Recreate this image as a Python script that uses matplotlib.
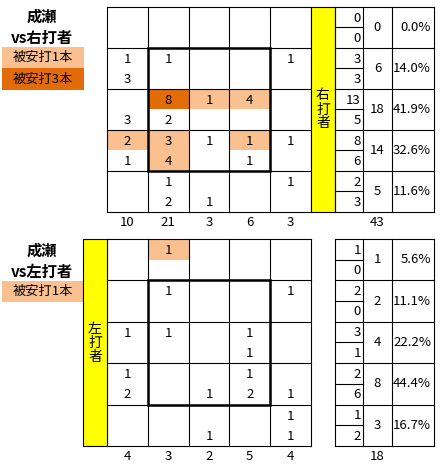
import matplotlib
matplotlib.use("Agg")
import matplotlib.pyplot as plt
from matplotlib.patches import Rectangle

plt.rcParams['font.family'] = ['Noto Sans CJK JP', 'DejaVu Sans']

# zone counts: each cell holds (upper, lower) values, None = empty
right_upper = [
    [None, None, None, None, None],
    [1, 1, None, None, 1],
    [None, 8, 1, 4, None],
    [2, 3, 1, 1, 1],
    [None, 1, None, None, 1],
]
right_lower = [
    [None, None, None, None, None],
    [3, None, None, None, None],
    [3, 2, None, None, None],
    [1, 4, None, 1, None],
    [None, 2, 1, None, None],
]
# hits: (row, col, half, level) half 0=upper 1=lower; level 1=1 hit, 3=3 hits
right_hits = [(2, 1, 0, 3), (2, 2, 0, 1), (2, 3, 0, 1), (3, 0, 0, 1),
              (3, 1, 0, 1), (3, 1, 1, 1), (3, 3, 0, 1)]
right_col_totals = [10, 21, 3, 6, 3]
right_row_upper = [0, 3, 13, 8, 2]
right_row_lower = [0, 3, 5, 6, 3]
right_row_totals = [0, 6, 18, 14, 5]
right_row_pct = ["0.0%", "14.0%", "41.9%", "32.6%", "11.6%"]
right_total = 43

left_upper = [
    [None, 1, None, None, None],
    [None, 1, None, None, 1],
    [1, 1, None, 1, None],
    [1, None, None, 1, None],
    [None, None, None, None, 1],
]
left_lower = [
    [None, None, None, None, None],
    [None, None, None, None, None],
    [None, None, None, 1, None],
    [2, None, 1, 2, 1],
    [None, None, 1, None, 1],
]
left_hits = [(0, 1, 0, 1)]
left_col_totals = [4, 3, 2, 5, 4]
left_row_upper = [1, 2, 3, 2, 1]
left_row_lower = [0, 0, 1, 6, 2]
left_row_totals = [1, 2, 4, 8, 3]
left_row_pct = ["5.6%", "11.1%", "22.2%", "44.4%", "16.7%"]
left_total = 18

LIGHT = "#FAC090"
DARK = "#E26B0A"
YELLOW = "#FFFF00"
hit_colors = {1: LIGHT, 3: DARK}

fig = plt.figure(figsize=(4.42, 4.69), dpi=100)
ax = fig.add_axes([0, 0, 1, 1])
ax.set_xlim(0, 442)
ax.set_ylim(469, 0)
ax.axis("off")

GX0, GX1 = 107, 311
TX = [335, 363, 392, 434]
NUM_FS = 9.5


def draw_block(y0, y1, upper, lower, hits, col_totals, row_up, row_lo,
               row_tot, row_pct, total, band_x, band_text):
    cw = (GX1 - GX0) / 5
    rh = (y1 - y0) / 5
    # highlighted halves
    for r, c, half, level in hits:
        ax.add_patch(Rectangle((GX0 + c * cw, y0 + r * rh + half * rh / 2), cw, rh / 2,
                               facecolor=hit_colors[level], edgecolor="none", zorder=1))
    # grid lines
    for i in range(6):
        ax.plot([GX0 + i * cw] * 2, [y0, y1], color="black", lw=0.8, zorder=2)
        ax.plot([GX0, GX1], [y0 + i * rh] * 2, color="black", lw=0.8, zorder=2)
    # strike zone
    ax.add_patch(Rectangle((GX0 + cw, y0 + rh), 3 * cw, 3 * rh, facecolor="none",
                           edgecolor="black", lw=1.8, zorder=3))
    # cell numbers
    for r in range(5):
        for c in range(5):
            cx = GX0 + (c + 0.5) * cw
            if upper[r][c] is not None:
                ax.text(cx, y0 + r * rh + rh * 0.28, str(upper[r][c]), ha="center",
                        va="center", fontsize=NUM_FS, zorder=4)
            if lower[r][c] is not None:
                ax.text(cx, y0 + r * rh + rh * 0.76, str(lower[r][c]), ha="center",
                        va="center", fontsize=NUM_FS, zorder=4)
    for c, v in enumerate(col_totals):
        ax.text(GX0 + (c + 0.5) * cw, y1 + 11, str(v), ha="center", va="center",
                fontsize=NUM_FS)
    # yellow band
    ax.add_patch(Rectangle((band_x, y0), 24, y1 - y0, facecolor=YELLOW,
                           edgecolor="black", lw=0.8, zorder=2))
    ax.text(band_x + 12, (y0 + y1) / 2, "\n".join(band_text), ha="center", va="center",
            fontsize=10, linespacing=1.0, zorder=4)
    # right table
    for i in range(6):
        ax.plot([TX[0], TX[-1]], [y0 + i * rh] * 2, color="black", lw=0.8)
    for x in TX:
        ax.plot([x, x], [y0, y1], color="black", lw=0.8)
    for r in range(5):
        ry = y0 + r * rh
        ax.plot([TX[0], TX[1]], [ry + rh / 2] * 2, color="black", lw=0.8)
        ax.text(TX[1] - 2, ry + rh * 0.27, str(row_up[r]), ha="right", va="center",
                fontsize=NUM_FS)
        ax.text(TX[1] - 2, ry + rh * 0.76, str(row_lo[r]), ha="right", va="center",
                fontsize=NUM_FS)
        ax.text((TX[1] + TX[2]) / 2, ry + rh / 2, str(row_tot[r]), ha="center",
                va="center", fontsize=NUM_FS)
        ax.text(TX[3] - 3, ry + rh / 2, row_pct[r], ha="right", va="center",
                fontsize=NUM_FS)
    ax.text((TX[1] + TX[2]) / 2, y1 + 11, str(total), ha="center", va="center",
            fontsize=NUM_FS)


def draw_legend(y_title, labels):
    ax.text(42, y_title, "成瀬", ha="center", va="center", fontsize=11, fontweight="bold")
    ax.text(42, y_title + 21, labels[0], ha="center", va="center", fontsize=11,
            fontweight="bold")
    for i, (text, color) in enumerate(labels[1]):
        yb = y_title + 30 + i * 21.5
        ax.add_patch(Rectangle((2, yb), 82, 21.5, facecolor=color, edgecolor="none"))
        ax.text(43, yb + 10.7, text, ha="center", va="center", fontsize=9.5)


draw_block(7, 212, right_upper, right_lower, right_hits, right_col_totals,
           right_row_upper, right_row_lower, right_row_totals, right_row_pct,
           right_total, 311, "右打者")
draw_block(239, 446, left_upper, left_lower, left_hits, left_col_totals,
           left_row_upper, left_row_lower, left_row_totals, left_row_pct,
           left_total, 83, "左打者")

draw_legend(17, ("vs右打者", [("被安打1本", LIGHT), ("被安打3本", DARK)]))
draw_legend(251, ("vs左打者", [("被安打1本", LIGHT)]))

fig.savefig("out.png", dpi=100)
